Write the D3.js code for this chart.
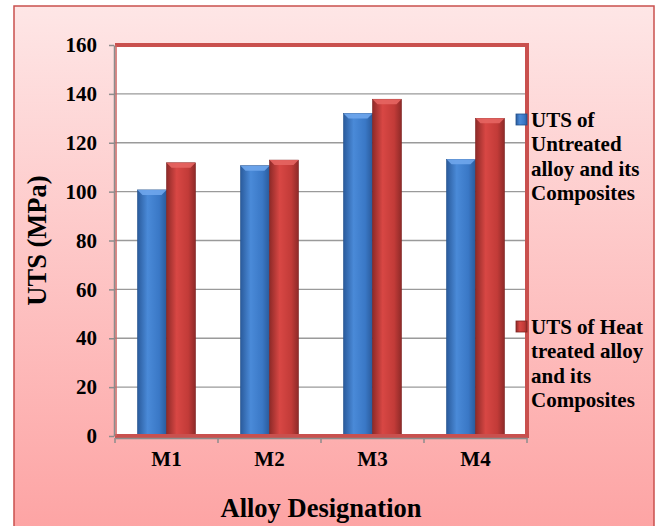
<!DOCTYPE html>
<html>
<head>
<meta charset="utf-8">
<script src="https://cdn.jsdelivr.net/npm/d3@7"></script>
<style>
  html, body { margin: 0; padding: 0; background: #ffffff; }
  svg { display: block; }
  text { font-family: "Liberation Serif", "Times New Roman", serif; font-weight: bold; fill: #000; }
</style>
</head>
<body>
<svg id="chart" width="659" height="526"></svg>
<script>
// Alloy designations and tensile strength values (MPa)
const categories = ["M1", "M2", "M3", "M4"];
const untreated = [100.7, 110.6, 132.0, 113.2];
const heatTreated = [111.8, 112.9, 137.8, 130.0];
const yTicks = [0, 20, 40, 60, 80, 100, 120, 140, 160];
const seriesNames = [
  ["UTS of", "Untreated", "alloy and its", "Composites"],
  ["UTS of Heat", "treated alloy", "and its", "Composites"]
];

const svg = d3.select("#chart");
const plot = { left: 115, top: 45, right: 527, bottom: 436 };

const defs = svg.append("defs");

// Chart background gradient (light pink to salmon)
const bg = defs.append("linearGradient").attr("id", "bgGrad")
  .attr("x1", 0).attr("y1", 0).attr("x2", 0).attr("y2", 1);
bg.append("stop").attr("offset", "0%").attr("stop-color", "#fee6e6");
bg.append("stop").attr("offset", "100%").attr("stop-color", "#fda3a3");

// Cylinder-like shading for the bars
function barGradient(id, dark, mid, light) {
  const g = defs.append("linearGradient").attr("id", id)
    .attr("x1", 0).attr("y1", 0).attr("x2", 1).attr("y2", 0);
  g.append("stop").attr("offset", "0%").attr("stop-color", dark);
  g.append("stop").attr("offset", "35%").attr("stop-color", light);
  g.append("stop").attr("offset", "75%").attr("stop-color", mid);
  g.append("stop").attr("offset", "100%").attr("stop-color", dark);
}
barGradient("blueGrad", "#2a5b9c", "#3a78c6", "#4a8ad8");
barGradient("redGrad", "#8e2a28", "#c23b38", "#d84744");

const colors = [
  { fill: "url(#blueGrad)", top: "#6fa6ec", edge: "#24508a" },
  { fill: "url(#redGrad)", top: "#e56562", edge: "#7e2422" }
];

// Outer chart frame
svg.append("rect")
  .attr("x", 14).attr("y", 6).attr("width", 640).attr("height", 530)
  .attr("fill", "url(#bgGrad)")
  .attr("stroke", "#c9504e").attr("stroke-width", 1.5);

// Scales
const x = d3.scaleBand().domain(categories).range([plot.left, plot.right]).padding(0);
const y = d3.scaleLinear().domain([0, 160]).range([plot.bottom, plot.top]);
const barW = 29;
const inner = d3.scaleBand().domain([0, 1]).range([0, barW * 2]);

// Plot area
svg.append("rect")
  .attr("x", plot.left).attr("y", plot.top)
  .attr("width", plot.right - plot.left).attr("height", plot.bottom - plot.top)
  .attr("fill", "#ffffff");

// Gridlines
svg.append("g").selectAll("line").data(yTicks.filter(d => d > 0)).join("line")
  .attr("x1", plot.left).attr("x2", plot.right)
  .attr("y1", d => y(d)).attr("y2", d => y(d))
  .attr("stroke", "#9a9a9a").attr("stroke-width", 1.3);

// Bars
const series = [untreated, heatTreated];
series.forEach((vals, s) => {
  const g = svg.append("g");
  const data = categories.map((c, i) => ({ c, v: vals[i] }));
  const bx = d => x(d.c) + x.bandwidth() / 2 - barW + inner(s);
  g.selectAll("rect").data(data).join("rect")
    .attr("x", bx)
    .attr("y", d => y(d.v))
    .attr("width", barW)
    .attr("height", d => y(0) - y(d.v))
    .attr("fill", colors[s].fill)
    .attr("stroke", colors[s].edge).attr("stroke-width", 0.6);
  // Bevelled top face
  g.selectAll("path").data(data).join("path")
    .attr("d", d => {
      const x0 = bx(d), yt = y(d.v), b = 5;
      return `M${x0},${yt}L${x0 + barW},${yt}L${x0 + barW - b},${yt + b}L${x0 + b},${yt + b}Z`;
    })
    .attr("fill", colors[s].top).attr("opacity", 0.9);
});

// Plot border
svg.append("path")
  .attr("d", `M${plot.left},${plot.top}H${plot.right}V${plot.bottom}H${plot.left}`)
  .attr("fill", "none").attr("stroke", "#c9504e").attr("stroke-width", 4);
svg.append("line")
  .attr("x1", plot.left + 1).attr("x2", plot.left + 1)
  .attr("y1", plot.top).attr("y2", plot.bottom)
  .attr("stroke", "#d0605e").attr("stroke-width", 1.5);

// Y axis
const yAxis = svg.append("g")
  .attr("transform", `translate(${plot.left - 1},0)`)
  .call(d3.axisLeft(y).tickValues(yTicks).tickSize(5).tickSizeOuter(0).tickPadding(12));
yAxis.select(".domain").attr("stroke", "#8c8c8c").attr("stroke-width", 1.5);
yAxis.selectAll(".tick line").attr("stroke", "#8c8c8c").attr("stroke-width", 1.5);
yAxis.selectAll(".tick text")
  .attr("font-family", "Liberation Serif").attr("font-weight", "bold")
  .attr("font-size", 21).attr("fill", "#000");

// X axis
const xAxis = svg.append("g")
  .attr("transform", `translate(0,${plot.bottom + 2})`)
  .call(d3.axisBottom(x).tickSize(0).tickPadding(13));
xAxis.select(".domain").attr("stroke", "#8c8c8c").attr("stroke-width", 1.5);
xAxis.selectAll(".tick text")
  .attr("font-family", "Liberation Serif").attr("font-weight", "bold")
  .attr("font-size", 21).attr("fill", "#000");
// Category boundary ticks
xAxis.append("g").selectAll("line")
  .data(categories.map(c => x(c)).concat([plot.right]))
  .join("line")
  .attr("x1", d => d).attr("x2", d => d)
  .attr("y1", 0).attr("y2", 5)
  .attr("stroke", "#8c8c8c").attr("stroke-width", 1.5);

// Axis titles
svg.append("text")
  .attr("x", (plot.left + plot.right) / 2).attr("y", 517)
  .attr("text-anchor", "middle").attr("font-size", 26.5)
  .text("Alloy Designation");
svg.append("text")
  .attr("transform", `translate(46,${(plot.top + plot.bottom) / 2}) rotate(-90)`)
  .attr("text-anchor", "middle").attr("font-size", 26.5)
  .text("UTS (MPa)");

// Legend
const legendTop = [120, 327];
const markerColor = [
  { fill: "url(#blueGrad)", edge: "#24508a" },
  { fill: "url(#redGrad)", edge: "#7e2422" }
];
seriesNames.forEach((lines, s) => {
  const g = svg.append("g");
  g.append("rect")
    .attr("x", 516).attr("y", legendTop[s] - 6)
    .attr("width", 11).attr("height", 11)
    .attr("fill", markerColor[s].fill)
    .attr("stroke", markerColor[s].edge).attr("stroke-width", 0.8);
  g.selectAll("text").data(lines).join("text")
    .attr("x", 531)
    .attr("y", (d, i) => legendTop[s] + 7 + i * 24.3)
    .attr("font-size", 21)
    .text(d => d);
});
</script>
</body>
</html>
